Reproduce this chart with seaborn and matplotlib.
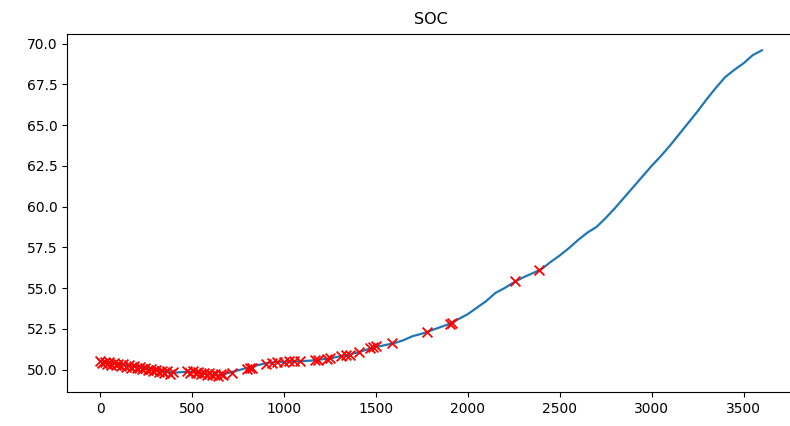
# SOC over time with flagged points
import matplotlib
matplotlib.use("Agg")
import matplotlib.pyplot as plt
import seaborn as sns

import pandas as pd

# time index in seconds, SOC read every 50 s
time_s = list(range(0, 3601, 50))
soc = [50.45, 50.42, 50.35, 50.28, 50.2, 50.1, 50.0, 49.9, 49.8, 49.85,
       49.85, 49.78, 49.7, 49.66, 49.8, 49.95, 50.1, 50.25, 50.38, 50.45,
       50.48, 50.5, 50.52, 50.55, 50.62, 50.68, 50.8, 50.9, 51.05, 51.22,
       51.38, 51.5, 51.62, 51.8, 52.05, 52.2, 52.4, 52.6, 52.8, 53.1,
       53.4, 53.8, 54.2, 54.7, 55.0, 55.35, 55.65, 55.9, 56.15, 56.6,
       57.0, 57.45, 57.95, 58.4, 58.75, 59.3, 59.9, 60.55, 61.2, 61.85,
       62.5, 63.1, 63.75, 64.45, 65.15, 65.85, 66.6, 67.3, 67.95, 68.4,
       68.8, 69.3, 69.6]

# flagged points (red crosses)
flag_x = [0, 12, 25, 38, 50, 62, 75, 88, 100, 112, 125, 140, 155, 170, 185,
          200, 215, 230, 245, 260, 275, 290, 305, 320, 335, 350, 365, 380, 395,
          475, 490, 505, 520, 535, 550, 565, 580, 595, 610, 625, 640, 655, 670,
          715, 800, 815, 825, 905, 935, 960, 1000, 1030, 1055, 1085, 1170, 1185,
          1235, 1250, 1310, 1340, 1360, 1410, 1470, 1485, 1500, 1590, 1780,
          1905, 1912, 2259, 2390]
flag_y = [50.5, 50.38, 50.47, 50.33, 50.45, 50.3, 50.42, 50.28, 50.36, 50.22,
          50.32, 50.18, 50.27, 50.12, 50.22, 50.08, 50.18, 50.02, 50.1, 49.95,
          50.05, 49.9, 50.0, 49.85, 49.93, 49.78, 49.88, 49.75, 49.82,
          49.9, 49.8, 49.88, 49.76, 49.84, 49.72, 49.8, 49.68, 49.76, 49.65,
          49.72, 49.62, 49.7, 49.68,
          49.8, 50.05, 50.1, 50.1, 50.35, 50.42, 50.45, 50.47, 50.5, 50.5, 50.52,
          50.57, 50.6, 50.66, 50.68, 50.83, 50.88, 50.92, 51.08, 51.3, 51.38,
          51.42, 51.6, 52.33, 52.8, 52.84, 55.42, 56.09]

df = pd.DataFrame({"t": time_s, "soc": soc})
flags = pd.DataFrame({"t": flag_x, "soc": flag_y})

fig = plt.figure(figsize=(7.9, 4.26), dpi=100)
ax = fig.add_axes([67 / 790, 34 / 426, 728 / 790, 358 / 426])

sns.lineplot(data=df, x="t", y="soc", ax=ax, color="#1f77b4", linewidth=1.6)
sns.scatterplot(data=flags, x="t", y="soc", ax=ax, marker="x", color="red",
                s=50, linewidth=1.3, zorder=3)

ax.set_title("SOC", fontsize=11.5, pad=7)
ax.set_xlabel("")
ax.set_ylabel("")
ax.tick_params(labelsize=10)

fig.savefig("out.png", dpi=100)
